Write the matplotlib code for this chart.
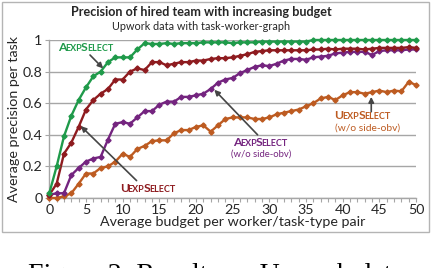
import matplotlib
matplotlib.use("Agg")
import matplotlib.pyplot as plt
from matplotlib.patches import Rectangle
import numpy as np

plt.rcParams["font.family"] = ["Lato", "DejaVu Sans"]

# ---------- data ----------
budget = list(range(0, 51))

aexp = [0.03, 0.20, 0.39, 0.52, 0.62, 0.70, 0.77, 0.80, 0.86, 0.89,
        0.89, 0.89, 0.94, 0.98, 0.975, 0.975, 0.98, 0.975, 0.98, 0.98,
        0.98, 0.985, 0.985, 0.985, 0.985, 0.98, 0.985, 0.985, 0.985, 0.99,
        0.99, 0.99, 0.99, 0.99, 0.99, 0.99, 1.0, 1.0, 1.0, 1.0,
        1.0, 1.0, 1.0, 1.0, 1.0, 1.0, 1.0, 1.0, 1.0, 1.0, 1.0]

uexp = [0.02, 0.09, 0.28, 0.35, 0.45, 0.56, 0.62, 0.66, 0.69, 0.75,
        0.75, 0.80, 0.82, 0.81, 0.86, 0.86, 0.84, 0.85, 0.86, 0.86,
        0.87, 0.87, 0.88, 0.885, 0.885, 0.89, 0.90, 0.91, 0.925, 0.93,
        0.935, 0.935, 0.935, 0.935, 0.935, 0.935, 0.94, 0.94, 0.945, 0.94,
        0.945, 0.945, 0.945, 0.94, 0.945, 0.95, 0.95, 0.95, 0.95, 0.955, 0.95]

aexp_noside = [0.02, 0.03, 0.03, 0.145, 0.19, 0.23, 0.25, 0.26, 0.37, 0.47,
               0.48, 0.47, 0.51, 0.55, 0.55, 0.59, 0.61, 0.61, 0.64, 0.64,
               0.65, 0.66, 0.69, 0.73, 0.75, 0.76, 0.79, 0.81, 0.83, 0.84,
               0.835, 0.85, 0.87, 0.88, 0.88, 0.875, 0.89, 0.895, 0.90, 0.915,
               0.92, 0.925, 0.925, 0.925, 0.905, 0.93, 0.935, 0.935, 0.935, 0.94, 0.94]

uexp_noside = [0.0, 0.0, 0.01, 0.03, 0.09, 0.155, 0.155, 0.19, 0.20, 0.23,
               0.28, 0.26, 0.31, 0.33, 0.36, 0.365, 0.365, 0.41, 0.43, 0.43,
               0.45, 0.46, 0.42, 0.46, 0.50, 0.51, 0.51, 0.51, 0.50, 0.50,
               0.51, 0.53, 0.54, 0.55, 0.56, 0.58, 0.60, 0.63, 0.64, 0.62,
               0.65, 0.67, 0.67, 0.66, 0.67, 0.68, 0.67, 0.68, 0.675, 0.735, 0.715]

# ---------- palette ----------
GREEN = "#1f9a4a"; RED = "#8e1b1f"; PURPLE = "#74247f"; ORANGE = "#bd5b21"
GRID = "#a6a6a6"; ARROW = "#454545"; TXT = "#262626"

fig = plt.figure(figsize=(4.32, 2.68), dpi=100)
ax = fig.add_axes([49.3 / 432, 1 - 198 / 268, (416 - 49.3) / 432, 158 / 268])

for ys, c in [(uexp_noside, ORANGE), (aexp_noside, PURPLE), (uexp, RED), (aexp, GREEN)]:
    ax.plot(budget, ys, color=c, lw=1.7, marker="D", ms=2.6, clip_on=False, zorder=3)

ax.set_xlim(0, 50); ax.set_ylim(0, 1)
ax.set_xticks(range(0, 51, 5))
ax.set_xticks(range(0, 51), minor=True)
ax.set_yticks([0, 0.2, 0.4, 0.6, 0.8, 1])
ax.set_yticklabels(["0", "0.2", "0.4", "0.6", "0.8", "1"])
ax.tick_params(axis="both", labelsize=10.3, colors=TXT, length=3, width=0.8, color=GRID)
ax.tick_params(axis="x", which="minor", length=3, width=0.8, color=GRID)
ax.tick_params(axis="x", which="major", length=3, pad=1.5)
ax.tick_params(axis="y", pad=2)
ax.grid(axis="y", color=GRID, lw=1.0); ax.set_axisbelow(True)
for s in ["top", "right"]:
    ax.spines[s].set_visible(False)
for s in ["left", "bottom"]:
    ax.spines[s].set_color(GRID); ax.spines[s].set_linewidth(1.0)

ax.set_xlabel("Average budget per worker/task-type pair", fontsize=10.3, color=TXT, labelpad=0)
ax.set_ylabel("Average precision per task", fontsize=10.3, color=TXT, labelpad=2)

fig.text(201 / 432, 1 - 11.5 / 268, "Precision of hired team with increasing budget",
         ha="center", va="center", fontsize=9.1, fontweight="bold", color=TXT)
fig.text(201 / 432, 1 - 26 / 268, "Upwork data with task-worker-graph",
         ha="center", va="center", fontsize=7.8, color=TXT)

# ---------- small-caps series labels ----------
def smallcaps(x, y, first, rest, color, size=8.8):
    pieces = [(first[0], False), (first[1:], True), (rest[0], False), (rest[1:], True)]
    prev = ax.text(x, y, pieces[0][0], color=color, fontsize=size, fontweight="bold",
                   ha="left", va="bottom", zorder=5)
    for t, small in pieces[1:]:
        prev = ax.annotate(t.upper(), xy=(1, 0), xycoords=prev,
                           xytext=(-0.8, 0), textcoords="offset points",
                           ha="left", va="bottom",
                           color=color, fontsize=size * 0.74 if small else size,
                           fontweight="bold", zorder=5)

smallcaps(1.2, 0.915, "AExp", "Select", GREEN)
smallcaps(9.6, 0.025, "UExp", "Select", RED)
smallcaps(25.0, 0.315, "AExp", "Select", PURPLE)
ax.text(28.9, 0.275, "(w/o side-obv)", color=PURPLE, fontsize=6.8, ha="center", va="center")
smallcaps(38.9, 0.485, "UExp", "Select", ORANGE)
ax.text(43.4, 0.44, "(w/o side-obv)", color=ORANGE, fontsize=7.4, ha="center", va="center")

arrows = [((5.55, 0.905), (7.35, 0.82)),
          ((11.9, 0.11), (4.3, 0.455)),
          ((28.4, 0.40), (22.5, 0.685)),
          ((43.9, 0.546), (43.9, 0.64))]
for tail, head in arrows:
    ax.annotate("", xy=head, xytext=tail, zorder=4,
                arrowprops=dict(arrowstyle="-|>", color=ARROW, lw=1.2,
                                mutation_scale=8, shrinkA=0, shrinkB=0))

# chart frame and cut-off caption below it
fig.patches.append(Rectangle((1.5 / 432, 1 - 232 / 268), 427 / 432, 230.5 / 268,
                             transform=fig.transFigure, fill=False, ec="#b4b4b4", lw=1))
fig.text(28 / 432, 1 - 282.5 / 268, "Figure 2: Results on Upwork data",
         family=["Liberation Serif", "DejaVu Serif"], fontsize=20, va="baseline", ha="left",
         color="black")

fig.savefig("out.png", dpi=100, facecolor="white")
